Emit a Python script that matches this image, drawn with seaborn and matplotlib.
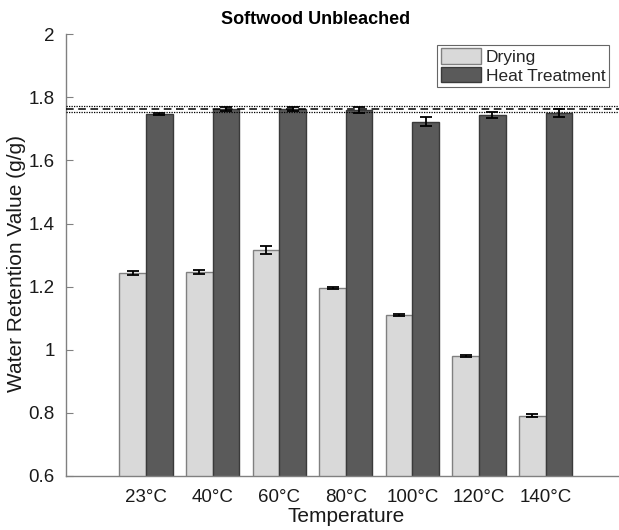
import matplotlib
matplotlib.use("Agg")
import matplotlib.pyplot as plt
import seaborn as sns
import pandas as pd
from matplotlib.patches import Patch

categories = ["23°C", "40°C", "60°C", "80°C", "100°C", "120°C", "140°C"]
drying = [1.243, 1.246, 1.316, 1.197, 1.111, 0.980, 0.791]
drying_err = [0.006, 0.006, 0.012, 0.003, 0.004, 0.004, 0.005]
heat = [1.747, 1.763, 1.763, 1.760, 1.723, 1.744, 1.751]
heat_err = [0.004, 0.006, 0.005, 0.008, 0.015, 0.010, 0.013]
series = ["Drying", "Heat Treatment"]
ref_mean = 1.763
ref_err = 0.010

sns.set_theme(style="white")
plt.rcParams["font.family"] = ["Liberation Sans", "DejaVu Sans"]

df = pd.DataFrame({
    "Temperature": categories * 2,
    "WRV": drying + heat,
    "Series": [series[0]] * len(categories) + [series[1]] * len(categories),
})

fig = plt.figure(figsize=(6.19, 5.30), dpi=100)
ax = fig.add_axes([66 / 619, 54 / 530, 1 - 66 / 619, (476 - 34.3) / 530])

colors = {"Drying": "#d9d9d9", "Heat Treatment": "#5a5a5a"}
edges = {"Drying": "#808080", "Heat Treatment": "#3a3a3a"}
sns.barplot(data=df, x="Temperature", y="WRV", hue="Series", order=categories,
            hue_order=series, palette=colors, errorbar=None, width=0.8, gap=0,
            ax=ax, legend=False, saturation=1)

n = len(categories)
for i, p in enumerate(ax.patches[: 2 * n]):
    s = series[0] if i < n else series[1]
    p.set_edgecolor(edges[s])
    p.set_linewidth(1.0)

# error bars at bar centers
for i, p in enumerate(ax.patches[: 2 * n]):
    xc = p.get_x() + p.get_width() / 2
    if i < n:
        y, e = drying[i], drying_err[i]
    else:
        y, e = heat[i - n], heat_err[i - n]
    ax.errorbar(xc, y, yerr=e, color="black", capsize=4, elinewidth=1.3,
                capthick=1.3, zorder=5)

ax.axhline(ref_mean, color="black", ls=(0, (5, 3)), lw=1.1, zorder=6)
ax.axhline(ref_mean + ref_err, color="black", ls=(0, (1, 1)), lw=0.9, zorder=6)
ax.axhline(ref_mean - ref_err, color="black", ls=(0, (1, 1)), lw=0.9, zorder=6)

ax.set_ylim(0.6, 2.0)
ax.set_xlim(-1.2, 7.1)
ax.set_yticks([0.6, 0.8, 1.0, 1.2, 1.4, 1.6, 1.8, 2.0])
ax.set_yticklabels(["0.6", "0.8", "1", "1.2", "1.4", "1.6", "1.8", "2"])
ax.tick_params(axis="y", direction="in", length=5, width=0.8, color="#808080",
               labelsize=13.5, labelcolor="#1a1a1a", pad=8, left=True)
ax.tick_params(axis="x", length=0, labelsize=13.5, labelcolor="#1a1a1a", pad=9)

for s in ["top", "right"]:
    ax.spines[s].set_visible(False)
for s in ["left", "bottom"]:
    ax.spines[s].set_color("#808080")
    ax.spines[s].set_linewidth(1.0)

ax.set_xlabel("Temperature", fontsize=15, color="#1a1a1a")
ax.set_ylabel("Water Retention Value (g/g)", fontsize=15, color="#1a1a1a")
ax.xaxis.set_label_coords((346 - 66) / (619 - 66), -0.071)
ax.yaxis.set_label_coords(-40 / (619 - 66), 0.48)

fig.text(316 / 619, 1 - 19 / 530, "Softwood Unbleached", fontsize=13,
         fontweight="bold", ha="center", va="center", color="black")

handles = [Patch(facecolor=colors[s], edgecolor=edges[s], label=s) for s in series]
leg = ax.legend(handles=handles, loc="upper right",
                bbox_to_anchor=(609 / 619, 1 - 45 / 530),
                bbox_transform=fig.transFigure, fontsize=12.5, frameon=True,
                fancybox=False, borderpad=0.2, labelspacing=0.1,
                handlelength=2.3, handleheight=1.0, handletextpad=0.3,
                borderaxespad=0)
leg.get_frame().set_edgecolor("#404040")
leg.get_frame().set_linewidth(0.8)

fig.savefig("out.png", dpi=100)
